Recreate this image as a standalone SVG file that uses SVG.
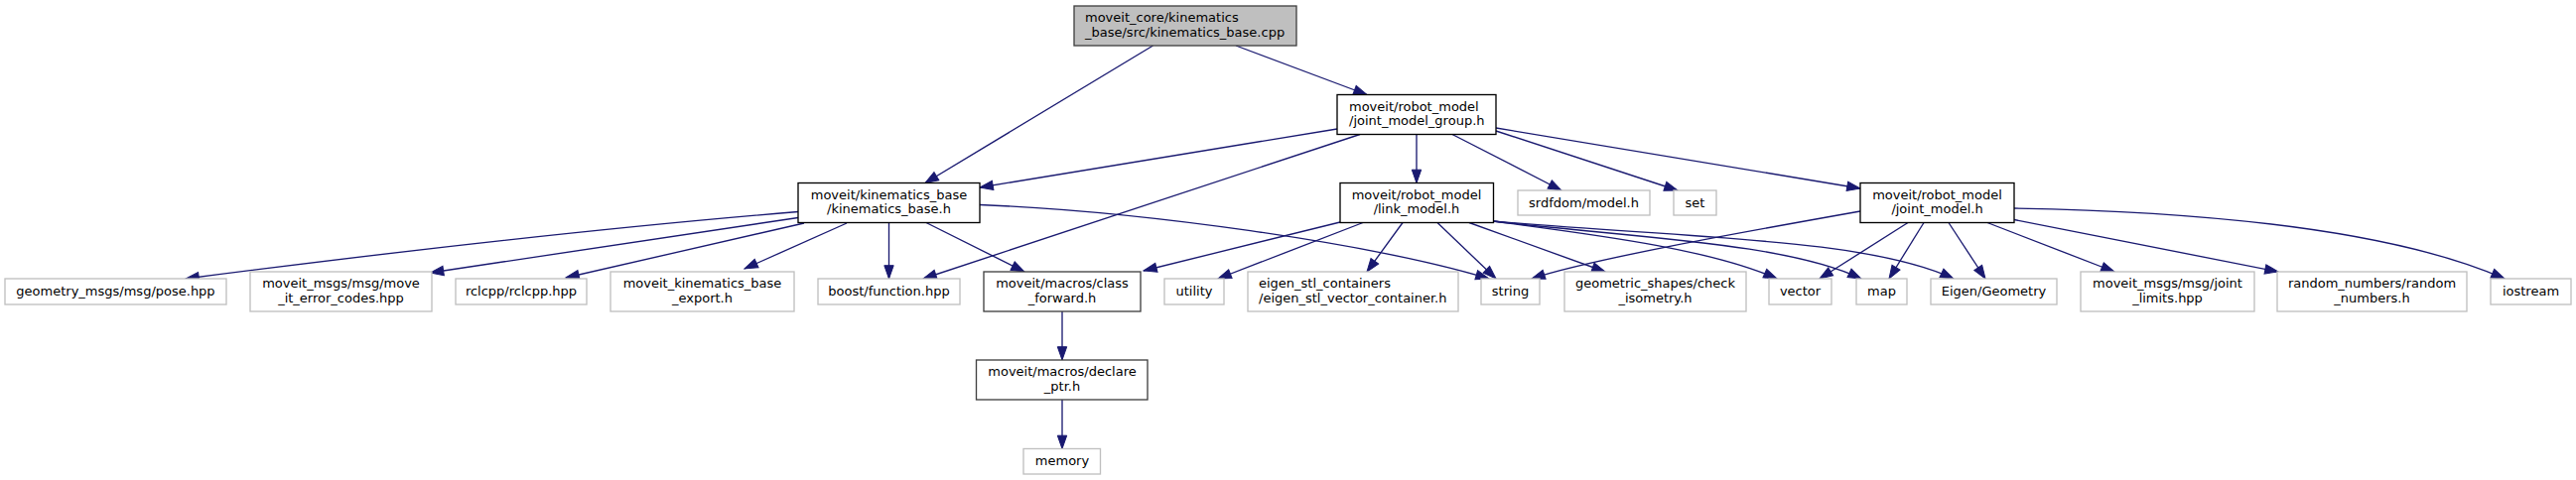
<svg xmlns="http://www.w3.org/2000/svg" width="2595" height="484" viewBox="0 0 2595 484">
<style>
text{font-family:"DejaVu Sans","Liberation Sans",sans-serif;font-size:13px;fill:#000}
.c{text-anchor:middle}
.l{text-anchor:start}
.doc{fill:#fff;stroke:#000;stroke-width:1.33}
.doc2{fill:#fff;stroke:#404040;stroke-width:1.33}
.ext{fill:#fff;stroke:#bfbfbf;stroke-width:1.33}
.root{fill:#bfbfbf;stroke:#404040;stroke-width:1.33}
.e{fill:none;stroke:#191970;stroke-width:1.33;marker-end:url(#a)}
</style>
<defs>
<marker id="a" markerUnits="userSpaceOnUse" markerWidth="14" markerHeight="10" viewBox="0 0 14 10" refX="13.3" refY="4.7" orient="auto" overflow="visible">
<path d="M0,0 L13.3,4.7 L0,9.4 z" fill="#191970" stroke="#191970" stroke-width="1"/>
</marker>
</defs>
<rect width="2595" height="484" fill="#fff"/>
<g id="edges">
<path class="e" d="M1161.5,46 L932,184.5"/>
<path class="e" d="M1245,46 L1377,95.5"/>
<path class="e" d="M1347,130 L987,189"/>
<path class="e" d="M1370,135.5 L930,281"/>
<path class="e" d="M1427,135.5 L1427,184.5"/>
<path class="e" d="M1463,135.5 L1573,192"/>
<path class="e" d="M1507,132 L1690,192"/>
<path class="e" d="M1507,129 L1874,190"/>
<path class="e" d="M804,213.5 Q544.5,234.8 187,281"/>
<path class="e" d="M804,219.5 L433.5,275"/>
<path class="e" d="M810,225 L570,280"/>
<path class="e" d="M853,225 L750,271"/>
<path class="e" d="M895.5,224.5 L895.5,281"/>
<path class="e" d="M933,224.5 L1032,274"/>
<path class="e" d="M987,206.5 C1150,213 1380,245 1500,281"/>
<path class="e" d="M1350,224 L1152,273"/>
<path class="e" d="M1373,224.5 L1227,281"/>
<path class="e" d="M1413,224.5 L1377,274"/>
<path class="e" d="M1448,224.5 L1507,281"/>
<path class="e" d="M1480,224.5 L1617,274"/>
<path class="e" d="M1504,223 C1600,236 1720,250 1790,281"/>
<path class="e" d="M1504,223 C1650,240 1800,245 1875,281"/>
<path class="e" d="M1504,223 C1700,240 1880,240 1968,281"/>
<path class="e" d="M1874,213 C1750,235 1600,262 1543,281"/>
<path class="e" d="M1922,224.5 L1833,281"/>
<path class="e" d="M1938,224.5 L1903,281"/>
<path class="e" d="M1963,224.5 L2000,281"/>
<path class="e" d="M2002,224.5 L2130,274"/>
<path class="e" d="M2029,221.5 L2295,274"/>
<path class="e" d="M2029,210 C2250,214 2420,236 2523,281"/>
<path class="e" d="M1070,314 L1070,363"/>
<path class="e" d="M1070,403 L1070,452.5"/>
</g>
<g id="root"><rect class="root" x="1082" y="6" width="224" height="40"/><text class="l" x="1093" y="22">moveit_core/kinematics</text><text class="l" x="1093" y="36.7">_base/src/kinematics_base.cpp</text></g>
<g id="jmg"><rect class="doc" x="1347" y="95.5" width="160" height="40"/><text class="l" x="1359" y="111.5">moveit/robot_model</text><text class="l" x="1359" y="126.2">/joint_model_group.h</text></g>
<g id="kb"><rect class="doc" x="804" y="184.5" width="183" height="40"/><text class="c" x="895.5" y="200.5">moveit/kinematics_base</text><text class="c" x="895.5" y="215.2">/kinematics_base.h</text></g>
<g id="lm"><rect class="doc" x="1350" y="184.5" width="154.5" height="40"/><text class="c" x="1427" y="200.5">moveit/robot_model</text><text class="c" x="1427" y="215.2">/link_model.h</text></g>
<g id="srdf"><rect class="ext" x="1529" y="192" width="133" height="25"/><text class="c" x="1595.5" y="208.5">srdfdom/model.h</text></g>
<g id="set"><rect class="ext" x="1686" y="192" width="43" height="25"/><text class="c" x="1707.5" y="208.5">set</text></g>
<g id="jm"><rect class="doc" x="1874" y="184.5" width="155" height="40"/><text class="c" x="1951.5" y="200.5">moveit/robot_model</text><text class="c" x="1951.5" y="215.2">/joint_model.h</text></g>
<g id="pose"><rect class="ext" x="5" y="281" width="223" height="26"/><text class="c" x="116.5" y="297.5">geometry_msgs/msg/pose.hpp</text></g>
<g id="err"><rect class="ext" x="252" y="274" width="183" height="40"/><text class="c" x="343.5" y="290">moveit_msgs/msg/move</text><text class="c" x="343.5" y="304.7">_it_error_codes.hpp</text></g>
<g id="rclcpp"><rect class="ext" x="459" y="281" width="132" height="26"/><text class="c" x="525" y="297.5">rclcpp/rclcpp.hpp</text></g>
<g id="export"><rect class="ext" x="615" y="274" width="185" height="40"/><text class="c" x="707.5" y="290">moveit_kinematics_base</text><text class="c" x="707.5" y="304.7">_export.h</text></g>
<g id="boost"><rect class="ext" x="824" y="281" width="143" height="26"/><text class="c" x="895.5" y="297.5">boost/function.hpp</text></g>
<g id="cf"><rect class="doc2" x="991" y="274" width="158" height="40"/><text class="c" x="1070" y="290">moveit/macros/class</text><text class="c" x="1070" y="304.7">_forward.h</text></g>
<g id="utility"><rect class="ext" x="1173" y="281" width="60" height="26"/><text class="c" x="1203" y="297.5">utility</text></g>
<g id="eigenstl"><rect class="ext" x="1257" y="274" width="212" height="40"/><text class="l" x="1268" y="290">eigen_stl_containers</text><text class="l" x="1268" y="304.7">/eigen_stl_vector_container.h</text></g>
<g id="string"><rect class="ext" x="1492" y="281" width="59" height="26"/><text class="c" x="1521.5" y="297.5">string</text></g>
<g id="geom"><rect class="ext" x="1576" y="274" width="183" height="40"/><text class="c" x="1667.5" y="290">geometric_shapes/check</text><text class="c" x="1667.5" y="304.7">_isometry.h</text></g>
<g id="vector"><rect class="ext" x="1782" y="281" width="63" height="26"/><text class="c" x="1813.5" y="297.5">vector</text></g>
<g id="map"><rect class="ext" x="1870" y="281" width="51" height="26"/><text class="c" x="1895.5" y="297.5">map</text></g>
<g id="eigengeom"><rect class="ext" x="1945" y="281" width="127" height="26"/><text class="c" x="2008.5" y="297.5">Eigen/Geometry</text></g>
<g id="jl"><rect class="ext" x="2096" y="274" width="175" height="40"/><text class="c" x="2183.5" y="290">moveit_msgs/msg/joint</text><text class="c" x="2183.5" y="304.7">_limits.hpp</text></g>
<g id="rn"><rect class="ext" x="2294" y="274" width="191" height="40"/><text class="c" x="2389.5" y="290">random_numbers/random</text><text class="c" x="2389.5" y="304.7">_numbers.h</text></g>
<g id="iostream"><rect class="ext" x="2509" y="281" width="81" height="26"/><text class="c" x="2549.5" y="297.5">iostream</text></g>
<g id="dp"><rect class="doc2" x="983.5" y="363" width="172.5" height="40"/><text class="c" x="1070" y="379">moveit/macros/declare</text><text class="c" x="1070" y="393.7">_ptr.h</text></g>
<g id="memory"><rect class="ext" x="1031" y="452.5" width="77.5" height="25.5"/><text class="c" x="1070" y="469">memory</text></g>
</svg>
